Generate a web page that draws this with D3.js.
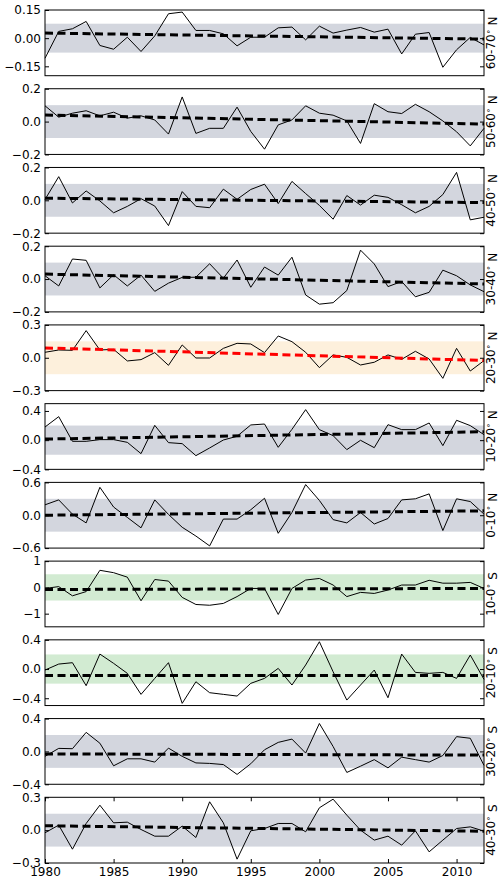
<!DOCTYPE html>
<html>
<head>
<meta charset="utf-8">
<script src="https://cdn.jsdelivr.net/npm/d3@7"></script>
<style>
  body { margin: 0; background: #fff; }
  text { font-family: "DejaVu Sans", sans-serif; }
</style>
</head>
<body>
<div id="chart"></div>
<script>
// years on the shared x axis
var years = d3.range(1980, 2013);
var xTicks = [1980, 1985, 1990, 1995, 2000, 2005, 2010];

// one label per latitude band, top to bottom
var bands = ["60-70", "50-60", "40-50", "30-40", "20-30", "10-20", "0-10", "10-0", "20-10", "30-20", "40-30"];
var hemis = ["N", "N", "N", "N", "N", "N", "N", "S", "S", "S", "S"];

// anomaly series (1980 .. 2012)
var v6070 = [-0.107, 0.036, 0.05, 0.089, -0.039, -0.059, 0.005, -0.071, 0.012, 0.13, 0.139, 0.041, 0.041, 0.023, -0.041, 0.005,
  0.005, 0.055, 0.059, -0.009, 0.064, 0.027, 0.043, 0.057, 0.032, 0.048, -0.084, 0.021, 0.03, -0.155, -0.062, 0.004, -0.036];
var v5060 = [0.096, 0.027, 0.051, 0.066, 0.035, 0.057, 0.021, 0.035, 0.01, -0.076, 0.15, -0.072, -0.041, -0.041, 0.088, -0.06,
  -0.168, -0.02, 0.01, 0.096, 0.051, 0.039, 0.004, -0.133, 0.109, 0.06, 0.049, 0.105, 0.06, 0.004, -0.062, -0.148, -0.041];
var v4050 = [0.005, 0.144, -0.016, 0.057, -0.004, -0.076, -0.037, 0.01, -0.035, -0.154, 0.053, -0.037, -0.045, 0.068, 0.006, 0.066,
  0.098, -0.02, 0.115, 0.041, -0.031, -0.115, 0.029, -0.029, 0.031, 0.018, -0.027, -0.076, -0.037, 0.035, 0.17, -0.119, -0.103];
var v3040 = [0.02, -0.042, 0.122, 0.114, -0.054, 0.026, -0.042, 0.024, -0.075, -0.025, 0.01, 0.011, 0.093, 0.005, 0.116, -0.05,
  0.073, 0.024, 0.133, -0.097, -0.153, -0.144, -0.07, 0.176, 0.092, -0.046, -0.015, -0.108, -0.081, 0.054, 0.02, -0.036, -0.077];
var v2030 = [0.05, 0.071, 0.068, 0.248, 0.071, 0.077, -0.029, -0.017, 0.047, -0.069, 0.117, -0.002, -0.002, 0.086, 0.132, 0.126,
  0.047, 0.199, 0.147, 0.05, -0.09, 0.026, 0.004, -0.066, -0.041, 0.026, -0.014, 0.059, -0.011, -0.188, 0.086, -0.121, -0.026];
var v1020 = [0.18, 0.322, -0.016, -0.016, 0.007, 0.007, -0.03, -0.185, 0.203, -0.034, -0.048, -0.212, -0.107, 0.002, 0.053, 0.208,
  0.221, -0.098, 0.148, 0.418, 0.144, 0.062, -0.13, -0.002, -0.103, 0.212, 0.144, 0.144, 0.235, -0.075, 0.272, 0.199, 0.075];
var v010 = [0.19, 0.28, 0.02, -0.14, 0.51, 0.15, -0.04, -0.23, 0.28, 0.015, -0.22, -0.38, -0.56, -0.07, -0.07, 0.1,
  0.31, -0.33, 0.05, 0.56, 0.27, -0.08, -0.14, 0.05, -0.16, -0.06, 0.28, 0.3, 0.39, -0.28, 0.3, 0.25, 0.02];
var v100 = [-0.04, 0.03, -0.32, -0.16, 0.65, 0.56, 0.39, -0.51, 0.3, 0.24, -0.38, -0.65, -0.68, -0.61, -0.35, -0.04,
  -0.04, -1.03, -0.04, 0.28, 0.34, 0.09, -0.35, -0.19, -0.23, -0.1, 0.09, 0.09, 0.27, 0.16, 0.16, 0.19, -0.04];
var v2010 = [-0.014, 0.068, 0.087, -0.228, 0.205, 0.078, -0.059, -0.347, -0.128, 0.087, -0.47, -0.174, -0.324, -0.347, -0.37, -0.196,
  -0.128, 0.009, -0.219, 0.055, 0.374, -0.037, -0.425, -0.219, -0.014, -0.393, 0.205, -0.046, -0.059, -0.046, -0.128, 0.192, -0.142];
var v3020 = [-0.06, 0.037, 0.033, 0.232, 0.1, -0.175, -0.09, -0.09, -0.13, 0.04, -0.06, -0.14, -0.146, -0.16, -0.28, -0.15,
  0.02, 0.11, 0.15, -0.02, 0.34, 0.06, -0.256, -0.18, -0.1, -0.2, -0.07, -0.1, -0.13, -0.05, 0.18, 0.16, -0.17];
var v4030 = [-0.024, 0.046, -0.174, 0.061, 0.228, 0.067, 0.073, 0.006, -0.055, -0.055, 0.037, -0.067, 0.259, 0.067, -0.265, -0.006,
  0.015, 0.061, 0.061, -0.015, 0.204, 0.283, 0.137, 0, -0.091, -0.055, -0.137, -0.006, -0.198, -0.091, 0.015, 0.03, -0.009];
var series = [v6070, v5060, v4050, v3040, v2030, v1020, v010, v100, v2010, v3020, v4030];

// linear trend, value at 1980 and at 2012
var trendStart = [0.027, 0.04, 0.013, 0.03, 0.09, 0.015, 0.0, -0.08, -0.09, -0.03, 0.04];
var trendEnd = [-0.005, -0.015, -0.014, -0.03, -0.025, 0.115, 0.08, -0.04, -0.09, -0.045, -0.01];

// half width of the shaded band
var spread = [0.077, 0.1, 0.1, 0.1, 0.15, 0.2, 0.3, 0.5, 0.2, 0.2, 0.15];

// y limits and ticks of every panel
var yMin = [-0.2, -0.2, -0.2, -0.2, -0.3, -0.4, -0.6, -1.5, -0.5, -0.4, -0.3];
var yMax = [0.15, 0.2, 0.2, 0.2, 0.3, 0.5, 0.6, 1, 0.4, 0.4, 0.3];
var yTicks = [[-0.15, 0, 0.15], [-0.2, 0, 0.2], [-0.2, 0, 0.2], [-0.2, 0, 0.2], [-0.3, 0, 0.3], [-0.4, 0, 0.4],
  [-0.6, 0, 0.6], [-1, 0, 1], [-0.4, 0, 0.4], [-0.4, 0, 0.4], [-0.3, 0, 0.3]];
var yFormats = [".2f", ".1f", ".1f", ".1f", ".1f", ".1f", ".1f", "d", ".1f", ".1f", ".1f"];

// styles
var bandFill = ["gray", "gray", "gray", "gray", "orange", "gray", "gray", "green", "green", "gray", "gray"];
var fills = {gray: "#d3d6de", orange: "#fdf0dc", green: "#d2ebd2"};

var margin = {top: 10, left: 45, right: 14},
    width = 498 - margin.left - margin.right,
    step = 78.73,
    panelH = 65.7;

var svg = d3.select("#chart").append("svg")
    .attr("width", 498)
    .attr("height", 882);

var x = d3.scaleLinear()
    .domain([1980, 2012])
    .range([0, width]);

series.forEach(function(vals, p) {
  var g = svg.append("g")
      .attr("transform", "translate(" + margin.left + "," + (margin.top + p * step) + ")");

  var y = d3.scaleLinear()
      .domain([yMin[p], yMax[p]])
      .range([panelH, 0]);

  g.append("rect")
      .attr("x", 0)
      .attr("width", width)
      .attr("y", y(spread[p]))
      .attr("height", y(-spread[p]) - y(spread[p]))
      .attr("fill", fills[bandFill[p]]);

  var line = d3.line()
      .x(function(d, i) { return x(years[i]); })
      .y(function(d) { return y(d); });

  g.append("path")
      .datum(vals)
      .attr("d", line)
      .attr("fill", "none")
      .attr("stroke", "#000")
      .attr("stroke-width", 1);

  g.append("line")
      .attr("x1", x(1980))
      .attr("x2", x(2012))
      .attr("y1", y(trendStart[p]))
      .attr("y2", y(trendEnd[p]))
      .attr("stroke", p === 4 ? "#ff0000" : "#000")
      .attr("stroke-width", 3)
      .attr("stroke-dasharray", "8,4.5");

  var yAxis = d3.axisLeft(y)
      .tickValues(yTicks[p])
      .tickFormat(d3.format(yFormats[p]))
      .tickSize(-4)
      .tickSizeOuter(0)
      .tickPadding(4);

  var ga = g.append("g")
      .style("font-size", "12px")
      .call(yAxis);
  ga.select(".domain").remove();
  ga.selectAll("text").attr("font-family", "DejaVu Sans").attr("fill", "#000");

  var gr = g.append("g")
      .attr("transform", "translate(" + width + ",0)")
      .call(d3.axisRight(y).tickValues(yTicks[p]).tickFormat("").tickSize(-4).tickSizeOuter(0));
  gr.select(".domain").remove();

  if (p === series.length - 1) {
    var gx = g.append("g")
        .attr("transform", "translate(0," + panelH + ")")
        .style("font-size", "12px")
        .call(d3.axisBottom(x).tickValues(xTicks).tickFormat(d3.format("d")).tickSize(-4).tickSizeOuter(0).tickPadding(4));
    gx.select(".domain").remove();
    gx.selectAll("text").attr("font-family", "DejaVu Sans").attr("fill", "#000");

    var gt = g.append("g")
        .call(d3.axisTop(x).tickValues(xTicks).tickFormat("").tickSize(-4).tickSizeOuter(0));
    gt.select(".domain").remove();
  }

  g.append("rect")
      .attr("width", width)
      .attr("height", panelH)
      .attr("fill", "none")
      .attr("stroke", "#000")
      .attr("stroke-width", 1);

  var lab = g.append("text")
      .attr("transform", "translate(" + (width + 7) + "," + (panelH / 2) + ") rotate(-90)")
      .attr("text-anchor", "middle")
      .attr("dominant-baseline", "central")
      .style("font-size", "12px")
      .attr("fill", "#000");
  lab.append("tspan").text(bands[p]);
  lab.append("tspan").attr("dy", "-0.4em").style("font-size", "8px").text("\u2218");
  lab.append("tspan").attr("dy", "0.4em").text(" " + hemis[p]);
});
</script>
</body>
</html>
